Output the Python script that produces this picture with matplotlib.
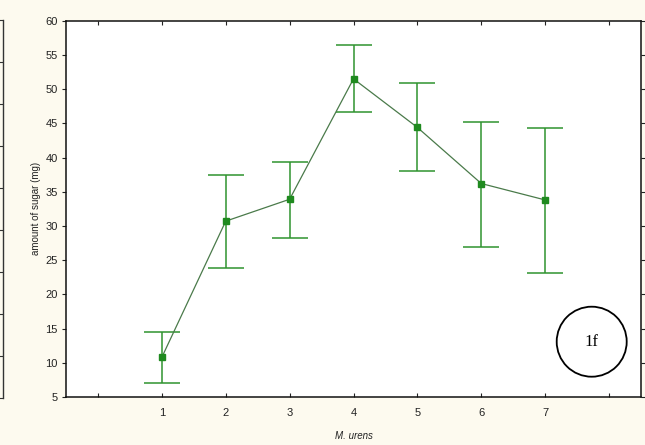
import matplotlib
matplotlib.use("Agg")
import matplotlib.pyplot as plt
from matplotlib.patches import Ellipse

# Data
groups = [1, 2, 3, 4, 5, 6, 7]
means = [10.8, 30.7, 33.9, 51.5, 44.4, 36.2, 33.8]
upper = [14.5, 37.5, 39.4, 56.4, 50.9, 45.2, 44.3]
lower = [7.1, 23.9, 28.2, 46.7, 38.1, 26.9, 23.1]
yticks = [5, 10, 15, 20, 25, 30, 35, 40, 45, 50, 55, 60]
xticks = [0, 1, 2, 3, 4, 5, 6, 7, 8]
xticklabels = ["", "1", "2", "3", "4", "5", "6", "7", ""]
panel_label = "1f"

bg = "#FDFAEF"
green = "#2F932F"
W, H = 645, 445

plt.rcParams['font.family'] = ['Liberation Sans', 'DejaVu Sans']
fig = plt.figure(figsize=(W / 100, H / 100), dpi=100, facecolor=bg)

# partial neighbour chart on the far left
axl = fig.add_axes([-0.2, 1 - 398 / H, 0.2 + 3 / W, (398 - 20) / H])
axl.set_facecolor(bg)
for s in ["left", "top", "bottom"]:
    axl.spines[s].set_visible(False)
axl.spines["right"].set_color("#333333")
axl.spines["right"].set_linewidth(1.0)
axl.set_xticks([])
axl.set_ylim(0, 9)
axl.yaxis.tick_right()
axl.set_yticks(range(0, 10))
axl.tick_params(axis="y", direction="in", length=3, labelright=False, color="#333333")

ax = fig.add_axes([66 / W, 1 - 397 / H, (641 - 66) / W, (397 - 20.7) / H])
ax.set_facecolor("white")

yerr_low = [m - l for m, l in zip(means, lower)]
yerr_up = [u - m for m, u in zip(means, upper)]
ax.errorbar(groups, means, yerr=[yerr_low, yerr_up], fmt="none",
            ecolor=green, elinewidth=1.1, capsize=13.3, capthick=1.1, zorder=2)
ax.plot(groups, means, color="#4A7A4A", linewidth=0.9, zorder=3)
ax.plot(groups, means, linestyle="none", marker="s", markersize=3.8,
        color="#1F8A1F", zorder=4)

ax.set_xlim(-0.5, 8.5)
ax.set_ylim(5, 60)
ax.set_xticks(xticks)
ax.set_xticklabels(xticklabels)
ax.set_yticks(yticks)
ax.tick_params(axis="x", direction="in", length=3, top=True, pad=8,
               labelsize=8, labelcolor="#222222", color="#222222")
ax.tick_params(axis="y", direction="out", length=3, right=True, pad=3,
               labelsize=8, labelcolor="#222222", color="#222222")
for s in ax.spines.values():
    s.set_linewidth(1.1)
    s.set_color("#111111")

ax.set_ylabel("amount of sugar (mg)", fontsize=7, color="#222222", labelpad=3)
ax.set_xlabel("M. urens", fontsize=7, style="italic", color="#222222", labelpad=9)

# circled panel label
cx, cy, r = 591.7, 341.7, 35
circ = Ellipse((cx / W, 1 - cy / H), 2 * r / W, 2 * r / H, transform=fig.transFigure,
               facecolor="white", edgecolor="black", linewidth=1.3, zorder=10)
fig.add_artist(circ)
fig.text(cx / W, 1 - cy / H, panel_label, ha="center", va="center", fontsize=12,
         family=["Liberation Serif", "DejaVu Serif"], zorder=11)

fig.savefig("out.png", dpi=100, facecolor=bg)
